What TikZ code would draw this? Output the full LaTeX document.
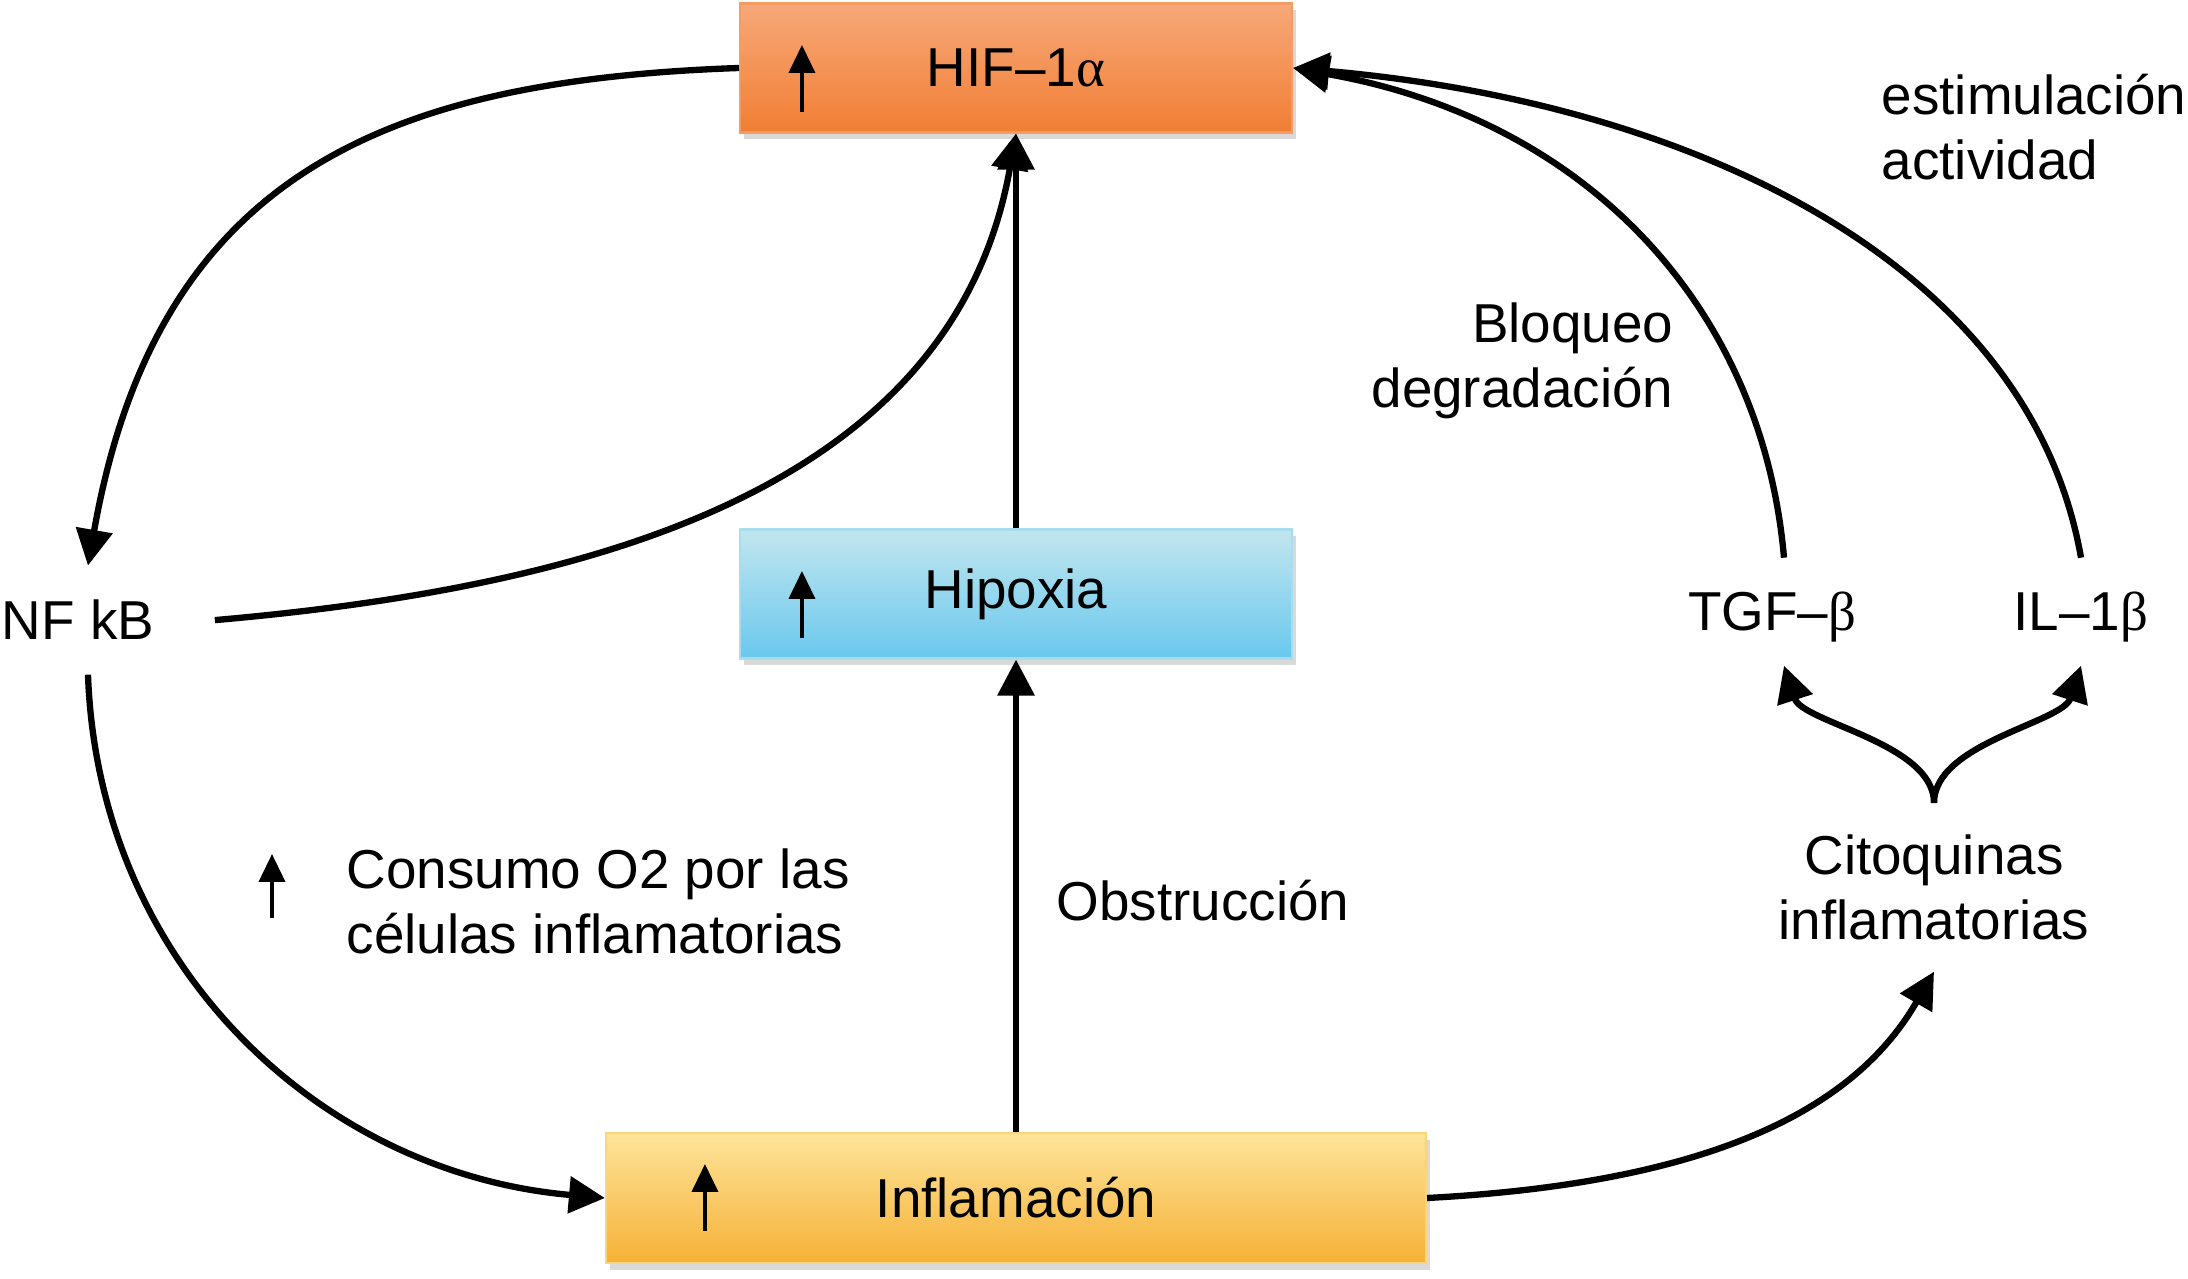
\documentclass[tikz,border=0pt]{standalone}
\usepackage{fontspec}
\setmainfont{Liberation Sans}
\newfontfamily\grk{Liberation Serif}
\usetikzlibrary{arrows.meta,shadows,calc}
\definecolor{hiftop}{HTML}{F7A879}
\definecolor{hifbot}{HTML}{F17E34}
\definecolor{hiptop}{HTML}{C2E6EE}
\definecolor{hipbot}{HTML}{69C8EE}
\definecolor{inftop}{HTML}{FDE49A}
\definecolor{infbot}{HTML}{F6B136}

\begin{document}
\begin{tikzpicture}
        \tikzset{every node/.style={font=\fontsize{15.6}{18.5}\selectfont},
            box/.style={minimum width=5.52cm,minimum height=1.29cm,inner sep=0pt,line width=0.6pt,
                drop shadow={shadow xshift=0.04cm,shadow yshift=-0.07cm,opacity=0.3}},
            term/.style={inner xsep=0pt,inner ysep=0.34cm,text depth=0pt},
            note/.style={inner sep=0pt},
            flow/.style={line width=1.8pt,-{Triangle[length=0.36cm,width=0.36cm]}},
            rise/.style={line width=1.1pt,-{Triangle[length=0.28cm,width=0.26cm]}}}
        \useasboundingbox (0,0) rectangle (21.88,12.79);
        % cajas
        \node[box,top color=hiftop,bottom color=hifbot,draw=hiftop!70!hifbot] (hif) at (10.16,12.11) {HIF–1{\grk α}};
        \node[box,top color=hiptop,bottom color=hipbot,draw=hiptop!70!hipbot] (hip) at (10.16,6.85) {Hipoxia};
        \node[box,minimum width=8.2cm,minimum height=1.3cm,top color=inftop,bottom color=infbot,
            draw=inftop!70!infbot] (inflam) at (10.16,0.81) {Inflamación};
        \draw[rise] ($(hif.west)+(0.63,-0.44)$) -- ++(0,0.67);
        \draw[rise] ($(hip.west)+(0.63,-0.44)$) -- ++(0,0.67);
        \draw[rise] ($(inflam.west)+(1.0,-0.33)$) -- ++(0,0.67);
        % textos
        \node[term,inner xsep=0.6cm,anchor=base] (nfkb) at (0.78,6.39) {NF kB};
        \node[term,anchor=base] (tgf) at (17.72,6.48) {TGF–{\grk β}};
        \node[term,anchor=base] (il) at (20.81,6.48) {IL–1{\grk β}};
        \node[inner xsep=0pt,inner ysep=0.31cm,align=center,anchor=north] (cito) at (19.34,4.76)
            {Citoquinas\\inflamatorias};
        \node[note,align=left,anchor=north west] (estim) at (18.81,12.06) {estimulación\\actividad};
        \node[note,align=right,anchor=north east] (bloq) at (16.74,9.77) {Bloqueo\\degradación};
        \node[note,align=left,anchor=north west] (consumo) at (3.46,4.31) {Consumo O2 por las\\células inflamatorias};
        \node[note,anchor=base west] (obst) at (10.56,3.58) {Obstrucción};
        \draw[rise] ($(consumo.north west)+(-0.74,-0.70)$) -- ++(0,0.64);
        % flechas
        \draw[flow] (hif.west) to[out=182,in=80,out distance=3.5cm,in distance=4cm] ([xshift=0.1cm]nfkb.north);
        \draw[flow] (nfkb.east) to[out=5,in=-100] (hif.south);
        \draw[flow] (hip.north) -- (hif.south);
        \draw[flow] (inflam.north) -- (hip.south);
        \draw[flow] ([xshift=0.1cm]nfkb.south) to[out=-88,in=175] (inflam.west);
        \draw[flow] (inflam.east) to[out=3,in=-120,out distance=3cm,in distance=1.5cm] (cito.south);
        \draw[flow] (cito.north) to[out=90,in=-72,distance=0.6cm] ([xshift=0.12cm]tgf.south);
        \draw[flow] (cito.north) to[out=90,in=-108,distance=0.6cm] (il.south);
        \draw[flow] ([xshift=0.12cm]tgf.north) to[out=95,in=-10,out distance=2.5cm,in distance=3cm] (hif.east);
        \draw[flow] (il.north) to[out=100,in=-5,out distance=3cm,in distance=4cm] (hif.east);
\end{tikzpicture}
\end{document}
